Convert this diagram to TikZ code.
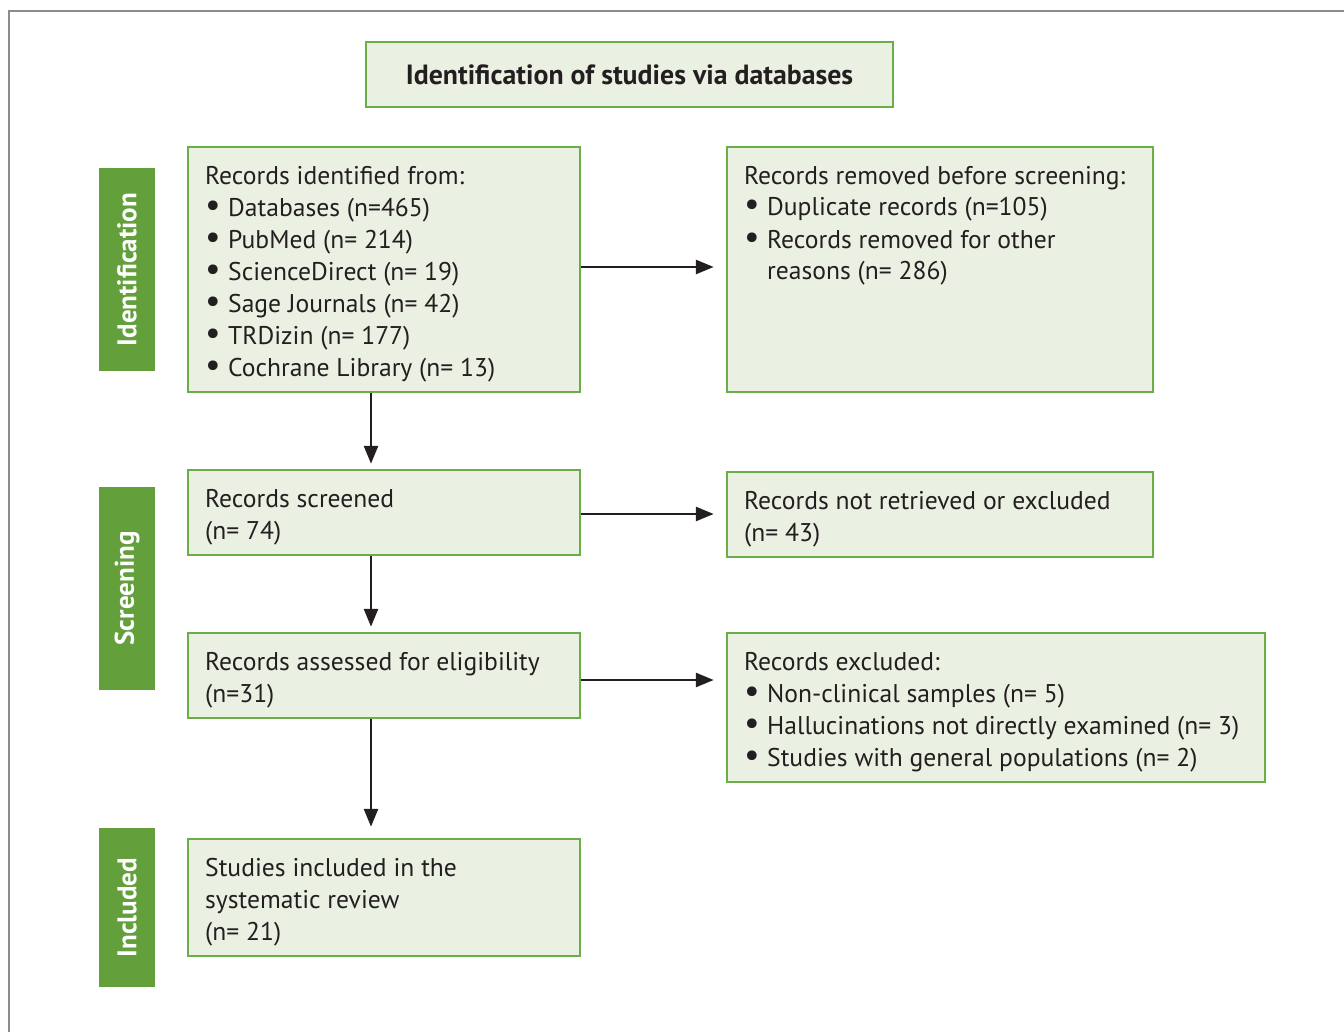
\documentclass[tikz,border=0pt]{standalone}
\usepackage{fontspec}
\setmainfont{PT Sans}
\usetikzlibrary{arrows.meta,calc}
\definecolor{boxfill}{HTML}{EAF0E2}
\definecolor{boxline}{HTML}{6AAE48}
\definecolor{labfill}{HTML}{63A03C}
\definecolor{txtcol}{HTML}{231F20}
\newcommand{\bul}{\hspace*{0pt}\makebox[23pt][l]{\scalebox{1.35}{\textbullet}}}
\newcommand{\ind}{\hspace*{23pt}}
\begin{document}
\begin{tikzpicture}[x=1pt,y=-1pt,
  box/.style={draw=boxline, fill=boxfill, line width=2.5pt, inner sep=0pt},
  lab/.style={fill=labfill, inner sep=0pt, text=white, font=\fontsize{27}{30}\selectfont\bfseries, rotate=90},
  txt/.style={text=txtcol, inner sep=0pt, align=left, font=\fontsize{25.6}{32}\selectfont},
  arr/.style={draw=txtcol, line width=2.7pt, -{Triangle[length=18pt,width=14pt]}}
]
\useasboundingbox (0,0) rectangle (1344,1032);
\draw[gray!90, line width=2pt] (9,1032) -- (9,11) -- (1344,11);

% title
\node[box, minimum width=527, minimum height=65, text=txtcol, font=\fontsize{27.8}{30}\selectfont\bfseries] (title) at (629.5,74.5) {Identification of studies via databases};

% side labels
\node[lab, minimum width=203, minimum height=56] (l1) at (127,269.5) {Identification};
\node[lab, minimum width=203, minimum height=56] (l2) at (127,588.5) {Screening};
\node[lab, minimum width=159, minimum height=56] (l3) at (127,907.5) {Included};

% boxes
\node[box, minimum width=392, minimum height=245] (b1) at (384,269.5) {};
\node[box, minimum width=426, minimum height=245] (b2) at (940,269.5) {};
\node[box, minimum width=392, minimum height=85] (b3) at (384,512.5) {};
\node[box, minimum width=426, minimum height=85] (b4) at (940,514.5) {};
\node[box, minimum width=392, minimum height=85] (b5) at (384,675.5) {};
\node[box, minimum width=538, minimum height=149] (b6) at (996,707.5) {};
\node[box, minimum width=392, minimum height=117] (b7) at (384,897.5) {};

% texts (anchored at the baseline of the last line)
\node[txt, anchor=base west] (t1) at (205,376) {Records identified from:\\
\bul Databases (n=465)\\
\bul PubMed (n= 214)\\
\bul ScienceDirect (n= 19)\\
\bul Sage Journals (n= 42)\\
\bul TRDizin (n= 177)\\
\bul Cochrane Library (n= 13)};
\node[txt, anchor=base west] (t2) at (744,280) {Records removed before screening:\\
\bul Duplicate records (n=105)\\
\bul Records removed for other\\
\ind reasons (n= 286)};
\node[txt, anchor=base west] (t3) at (205,539) {Records screened\\(n= 74)};
\node[txt, anchor=base west] (t4) at (744,541) {Records not retrieved or excluded\\(n= 43)};
\node[txt, anchor=base west] (t5) at (205,702) {Records assessed for eligibility\\(n=31)};
\node[txt, anchor=base west] (t6) at (744,766) {Records excluded:\\
\bul Non-clinical samples (n= 5)\\
\bul Hallucinations not directly examined (n= 3)\\
\bul Studies with general populations (n= 2)};
\node[txt, anchor=base west] (t7) at (205,940) {Studies included in the\\systematic review\\(n= 21)};

% arrows
\draw[arr, shorten >=12pt] ($(b1.east)+(0,-2.5)$) -- ($(b1.east -| b2.west)+(0,-2.5)$);
\draw[arr, shorten >=12pt] ($(b3.east)+(0,1.5)$) -- ($(b3.east -| b4.west)+(0,1.5)$);
\draw[arr, shorten >=12pt] ($(b5.east)+(0,4.5)$) -- ($(b5.east -| b6.west)+(0,4.5)$);
\draw[arr, shorten >=5pt] ($(b1.south)+(-13,0)$) -- ($(b3.north)+(-13,0)$);
\draw[arr, shorten >=5pt] ($(b3.south)+(-13,0)$) -- ($(b5.north)+(-13,0)$);
\draw[arr, shorten >=11pt] ($(b5.south)+(-13,0)$) -- ($(b7.north)+(-13,0)$);
\end{tikzpicture}
\end{document}
